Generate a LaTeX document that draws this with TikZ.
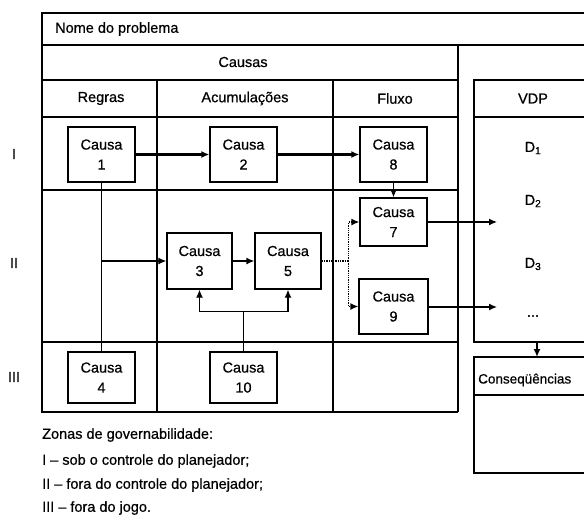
\documentclass[tikz,border=0pt]{standalone}
\usepackage{fontspec}
\setmainfont[FakeBold=0.6]{Liberation Sans}
\usetikzlibrary{arrows.meta}
\begin{document}
\begin{tikzpicture}[x=1pt,y=-1pt,
  txt/.style={font=\fontsize{14.5}{20}\selectfont, inner sep=0pt},
  frame/.style={line width=1.3pt},
  causa/.style={draw, line width=1.3pt, font=\fontsize{14.5}{20}\selectfont, align=center, minimum width=67pt, inner sep=0pt},
  thickarr/.style={line width=2.4pt, -{Latex[length=8pt,width=7pt]}},
  arr/.style={line width=1.3pt, -{Latex[length=8pt,width=7pt]}},
  dotarr/.style={line width=1.3pt, densely dotted, -{Latex[length=8pt,width=7pt]}},
  ln/.style={line width=1.3pt}]
\useasboundingbox (0,0) rectangle (584,520);
\fill[white] (0,0) rectangle (584,520);
% table frame
\draw[frame] (590,13) -- (42,13) -- (42,412) -- (458,412);
\draw[frame] (42,45) -- (590,45);
\draw[frame] (42,80) -- (458,80);
\draw[frame] (42,117) -- (458,117);
\draw[frame] (42,190) -- (458,190);
\draw[frame] (42,342) -- (458,342);
\draw[frame] (157,80) -- (157,412);
\draw[frame] (333,80) -- (333,412);
\draw[frame] (458,45) -- (458,412);
% VDP box
\draw[frame] (590,80) -- (474,80) -- (474,342) -- (590,342);
\draw[frame] (474,117) -- (590,117);
% Consequencias box
\draw[frame] (590,357) -- (474,357) -- (474,473) -- (590,473);
\draw[frame] (474,395) -- (590,395);
% texts
\node[txt, anchor=west] (nome) at (55,29) {Nome do problema};
\node[txt] (causas) at (243,62) {Causas};
\node[txt] (regras) at (101,98.5) {Regras};
\node[txt] (acum) at (245,98.5) {Acumulações};
\node[txt] (fluxo) at (395,98.5) {Fluxo};
\node[txt] (vdp) at (533,98.5) {VDP};
\node[txt] (d1) at (533,148) {D\textsubscript{1}};
\node[txt] (d2) at (533,201) {D\textsubscript{2}};
\node[txt] (d3) at (533,264) {D\textsubscript{3}};
\node[txt] (dots) at (533,316) {...};
\node[txt, font=\fontsize{13.5}{20}\selectfont, anchor=west] (cons) at (478,380) {Conseqüências};
\node[txt] (r1) at (14,154) {I};
\node[txt] (r2) at (14,263) {II};
\node[txt] (r3) at (14,377) {III};
% legend
\node[txt, anchor=west] (lg0) at (42,435) {Zonas de governabilidade:};
\node[txt, anchor=west] (lg1) at (42,461) {I -- sob o controle do planejador;};
\node[txt, anchor=west] (lg2) at (42,485) {II -- fora do controle do planejador;};
\node[txt, anchor=west] (lg3) at (42,508) {III -- fora do jogo.};
% causa boxes
\node[causa, minimum height=55pt] (c1) at (101.5,154.5) {Causa\\1};
\node[causa, minimum height=55pt] (c2) at (243.5,154.5) {Causa\\2};
\node[causa, minimum height=55pt] (c8) at (393.5,154.5) {Causa\\8};
\node[causa, minimum height=48pt] (c7) at (393.5,222) {Causa\\7};
\node[causa, minimum height=56pt, minimum width=65pt] (c3) at (199.5,261) {Causa\\3};
\node[causa, minimum height=56pt, minimum width=66pt] (c5) at (288,261) {Causa\\5};
\node[causa, minimum height=55pt, minimum width=69pt] (c9) at (393.5,306.5) {Causa\\9};
\node[causa, minimum height=51pt] (c4) at (101.5,377.5) {Causa\\4};
\node[causa, minimum height=51pt] (c10) at (243.5,377.5) {Causa\\10};
% connectors
\draw[thickarr] (c1) -- (c2);
\draw[thickarr] (c2) -- (c8);
\draw[arr] (c8) -- (c7);
\draw[ln] (c1.south) -- (c4.north);
\coordinate (b1) at (c1.south |- c3.west);
\draw[arr] (b1) -- (c3.west);
\draw[arr] (c3) -- (c5);
\draw[ln] (c10.north) -- ++(0,-40) coordinate (j10);
\draw[arr] (j10) -| (c3.south);
\draw[arr] (j10) -| (c5.south);
\draw[ln, densely dotted] (c5.east) -- ++(27,0) coordinate (j5);
\draw[dotarr] (j5) |- (c7.west);
\draw[dotarr] (j5) |- (c9.west);
\coordinate (e7) at (497,222);
\coordinate (e9) at (497,307);
\draw[arr] (c7.east) -- (e7);
\draw[arr] (c9.east |- e9) -- (e9);
\coordinate (vdpb) at (537,342);
\coordinate (const) at (537,357);
\draw[line width=2pt, -{Latex[length=8pt,width=7pt]}] (vdpb) -- (const);
\end{tikzpicture}
\end{document}
